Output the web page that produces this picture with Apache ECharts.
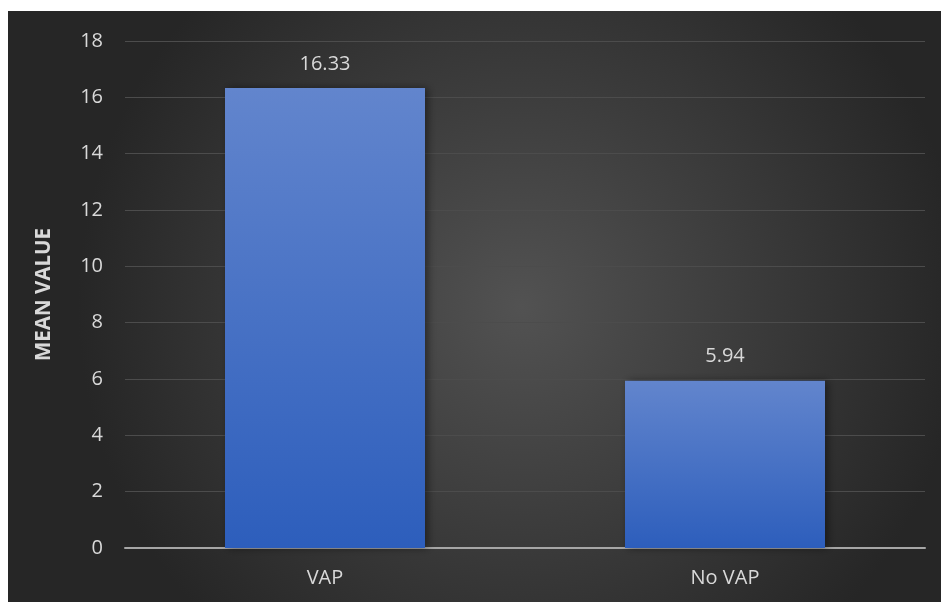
<!DOCTYPE html>
<html>
<head>
<meta charset="utf-8">
<script src="https://cdn.jsdelivr.net/npm/echarts@6/dist/echarts.min.js"></script>
<style>
  html, body { margin: 0; padding: 0; background: #ffffff; }
  #chart { position: absolute; left: 8px; top: 11px; width: 933px; height: 591px; }
</style>
</head>
<body>
<div id="chart"></div>
<script>
// Mean value by group
const categories = ['VAP', 'No VAP'];
const meanValues = [16.33, 5.94];
const yTicks = { min: 0, max: 18, interval: 2 };

const chart = echarts.init(document.getElementById('chart'));
const textColor = '#d9d9d9';
const font = 'Open Sans, Liberation Sans, sans-serif';

chart.setOption({
  backgroundColor: {
    type: 'radial', x: 0.55, y: 0.5, r: 0.75,
    colorStops: [
      { offset: 0, color: '#525252' },
      { offset: 1, color: '#262626' }
    ]
  },
  grid: { left: 117, right: 16, top: 30, bottom: 54 },
  xAxis: {
    type: 'category',
    data: categories,
    axisLine: { lineStyle: { color: '#a6a6a6', width: 2 } },
    axisTick: { show: false },
    axisLabel: { color: textColor, fontSize: 20, fontFamily: font, margin: 20 }
  },
  yAxis: {
    type: 'value',
    min: yTicks.min, max: yTicks.max, interval: yTicks.interval,
    name: 'MEAN VALUE',
    nameLocation: 'middle',
    nameGap: 70,
    nameTextStyle: { color: textColor, fontSize: 20.5, fontWeight: 'bold', fontFamily: font },
    axisLine: { show: false },
    axisTick: { show: false },
    axisLabel: { color: textColor, fontSize: 20, fontFamily: font, margin: 22 },
    splitLine: { lineStyle: { color: '#4c4c4c', width: 1 } }
  },
  series: [{
    type: 'bar',
    data: meanValues,
    barWidth: '50%',
    itemStyle: {
      color: {
        type: 'linear', x: 0, y: 0, x2: 0, y2: 1,
        colorStops: [
          { offset: 0, color: '#6285cd' },
          { offset: 1, color: '#2d5ebc' }
        ]
      },
      shadowColor: 'rgba(0,0,0,0.45)',
      shadowBlur: 8,
      shadowOffsetX: 3,
      shadowOffsetY: 0
    },
    label: {
      show: true,
      position: 'top',
      distance: 14,
      color: textColor,
      fontSize: 20,
      fontFamily: font,
      formatter: p => p.value.toFixed(2)
    }
  }]
});
</script>
</body>
</html>
